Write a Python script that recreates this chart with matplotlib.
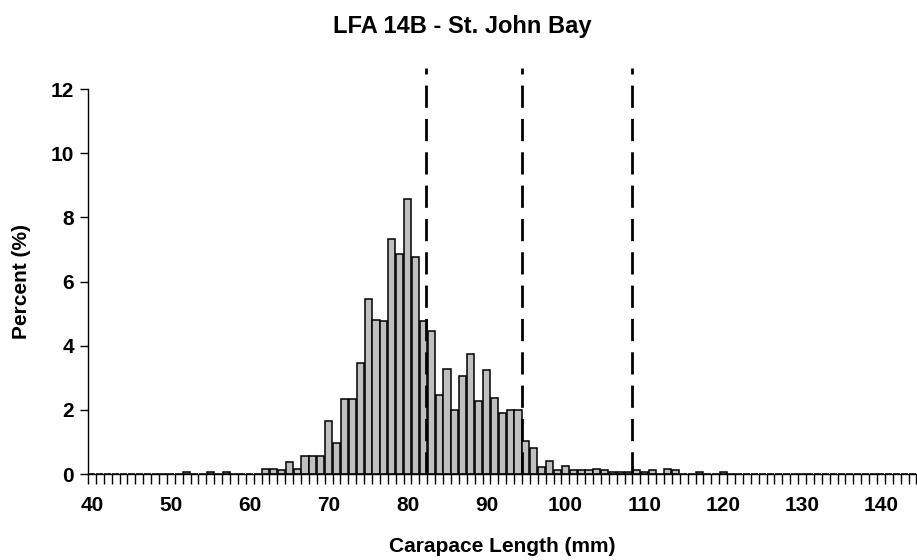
import matplotlib
matplotlib.use("Agg")
import matplotlib.pyplot as plt
import numpy as np

# Data
lengths = list(range(40, 145))  # carapace length categories (mm)
percent_values = {
    52: 0.05, 55: 0.05, 57: 0.05,
    62: 0.17, 63: 0.17, 64: 0.11, 65: 0.37, 66: 0.17, 67: 0.55, 68: 0.55, 69: 0.55,
    70: 1.66, 71: 0.97, 72: 2.34, 73: 2.34, 74: 3.46, 75: 5.45, 76: 4.81, 77: 4.77,
    78: 7.32, 79: 6.85, 80: 8.57, 81: 6.77, 82: 4.77, 83: 4.46, 84: 2.46, 85: 3.27,
    86: 2.00, 87: 3.06, 88: 3.75, 89: 2.29, 90: 3.23, 91: 2.38, 92: 1.90, 93: 2.00,
    94: 2.00, 95: 1.02, 96: 0.81, 97: 0.21, 98: 0.41, 99: 0.11, 100: 0.26, 101: 0.11,
    102: 0.11, 103: 0.11, 104: 0.16, 105: 0.11, 106: 0.05, 107: 0.05, 108: 0.05,
    109: 0.11, 110: 0.05, 111: 0.11, 113: 0.17, 114: 0.11, 117: 0.05, 120: 0.05,
}
percents = [percent_values.get(v, 0.0) for v in lengths]
reference_lines = [82.3, 94.5, 108.4]
x_tick_labels = [40, 50, 60, 70, 80, 90, 100, 110, 120, 130, 140]
y_ticks = [0, 2, 4, 6, 8, 10, 12]

title = "LFA 14B - St. John Bay"
xlabel = "Carapace Length (mm)"
ylabel = "Percent (%)"

plt.rcParams['font.family'] = ['Liberation Sans', 'DejaVu Sans']
plt.rcParams['font.weight'] = 'bold'

W, H = 917, 560
fig = plt.figure(figsize=(W / 100, H / 100), dpi=100)
left_px, right_px, bottom_px, top_px = 88, 917, 474, 89
ax = fig.add_axes([left_px / W, 1 - bottom_px / H,
                   (right_px - left_px) / W, (bottom_px - top_px) / H])

ax.bar(lengths, percents, width=0.9, color="#C0C0C0", edgecolor="black",
       linewidth=1.1, zorder=2)

for xv in reference_lines:
    ax.plot([xv, xv], [0, 12.65], color="black", linewidth=2.0,
            linestyle=(0, (8, 4)), clip_on=False, zorder=3)

ax.set_ylim(0, 12)
ax.set_xlim(39.5, 39.5 + (right_px - left_px) / 7.89)

ax.set_yticks(y_ticks)
ax.set_yticklabels([str(v) for v in y_ticks], fontsize=15, fontweight='bold')
ax.tick_params(axis='y', direction='out', length=6, width=1, pad=4)

ax.set_xticks(x_tick_labels)
ax.set_xticklabels([str(v) for v in x_tick_labels], fontsize=15, fontweight='bold')
ax.set_xticks(np.arange(39.5, 145.5, 1.0), minor=True)
ax.tick_params(axis='x', which='major', length=0, pad=16)
ax.tick_params(axis='x', which='minor', direction='out', length=7, width=1)

for s in ['top', 'right']:
    ax.spines[s].set_visible(False)
ax.spines['left'].set_linewidth(1)
ax.spines['bottom'].set_linewidth(1)

ax.set_xlabel(xlabel, fontsize=15, fontweight='bold', labelpad=16)
ax.set_ylabel(ylabel, fontsize=15, fontweight='bold', labelpad=14)
fig.text(462 / W, 1 - 26 / H, title, fontsize=17, fontweight='bold',
         ha='center', va='center')

fig.savefig("out.png", dpi=100)
